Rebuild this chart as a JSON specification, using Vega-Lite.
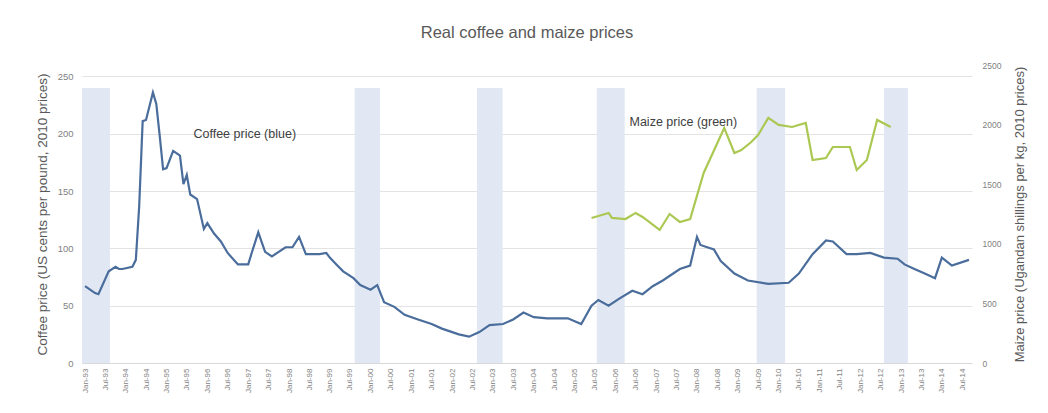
{
  "$schema": "https://vega.github.io/schema/vega-lite/v6.json",
  "autosize": {"type": "none"},
  "width": 890,
  "height": 298,
  "padding": {"left": 82, "top": 65, "right": 76, "bottom": 50},
  "background": "#ffffff",
  "config": {
    "font": "Liberation Sans",
    "view": {"stroke": null},
    "axis": {"labelColor": "#7f7f7f", "titleColor": "#595959", "titleFontWeight": "normal", "ticks": false, "domain": false},
    "axisX": {"labelOverlap": false, "labelBound": false, "labelFlush": false}
  },
  "title": {"text": "Real coffee and maize prices", "fontSize": 16.5, "fontWeight": "normal", "color": "#595959", "anchor": "middle", "offset": 20},
  "datasets": {
    "bands": [
      {"start": "1992-12-05", "end": "1993-08-12", "bottom": 0, "top": 240},
      {"start": "1999-08-12", "end": "2000-03-25", "bottom": 0, "top": 240},
      {"start": "2002-08-10", "end": "2003-03-28", "bottom": 0, "top": 240},
      {"start": "2005-07-18", "end": "2006-03-25", "bottom": 0, "top": 240},
      {"start": "2009-06-18", "end": "2010-02-28", "bottom": 0, "top": 240},
      {"start": "2012-08-01", "end": "2013-03-03", "bottom": 0, "top": 240}
    ],
    "coffee": [
      {"date": "1993-01-01", "price": 67},
      {"date": "1993-04-01", "price": 61},
      {"date": "1993-05-01", "price": 60},
      {"date": "1993-08-01", "price": 80},
      {"date": "1993-10-01", "price": 84},
      {"date": "1993-11-01", "price": 82},
      {"date": "1993-12-01", "price": 82},
      {"date": "1994-03-01", "price": 84},
      {"date": "1994-04-01", "price": 90},
      {"date": "1994-05-01", "price": 137},
      {"date": "1994-06-01", "price": 211},
      {"date": "1994-07-01", "price": 212},
      {"date": "1994-09-01", "price": 236},
      {"date": "1994-10-01", "price": 226},
      {"date": "1994-11-01", "price": 198},
      {"date": "1994-12-01", "price": 169},
      {"date": "1995-01-01", "price": 170},
      {"date": "1995-03-01", "price": 185},
      {"date": "1995-05-01", "price": 181},
      {"date": "1995-06-01", "price": 156},
      {"date": "1995-07-01", "price": 164},
      {"date": "1995-08-01", "price": 147},
      {"date": "1995-10-01", "price": 143},
      {"date": "1995-12-01", "price": 117},
      {"date": "1996-01-01", "price": 122},
      {"date": "1996-03-01", "price": 113},
      {"date": "1996-05-01", "price": 106},
      {"date": "1996-07-01", "price": 96},
      {"date": "1996-10-01", "price": 86},
      {"date": "1997-01-01", "price": 86},
      {"date": "1997-02-01", "price": 96},
      {"date": "1997-04-01", "price": 114},
      {"date": "1997-06-01", "price": 97},
      {"date": "1997-08-01", "price": 93},
      {"date": "1997-12-01", "price": 101},
      {"date": "1998-02-01", "price": 101},
      {"date": "1998-04-01", "price": 110},
      {"date": "1998-06-01", "price": 95},
      {"date": "1998-10-01", "price": 95},
      {"date": "1998-12-01", "price": 96},
      {"date": "1999-01-01", "price": 92},
      {"date": "1999-03-01", "price": 86},
      {"date": "1999-05-01", "price": 80},
      {"date": "1999-08-01", "price": 74},
      {"date": "1999-10-01", "price": 68},
      {"date": "2000-01-01", "price": 64},
      {"date": "2000-03-01", "price": 68},
      {"date": "2000-05-01", "price": 53},
      {"date": "2000-08-01", "price": 49},
      {"date": "2000-11-01", "price": 42},
      {"date": "2001-03-01", "price": 38},
      {"date": "2001-07-01", "price": 34},
      {"date": "2001-10-01", "price": 30},
      {"date": "2002-03-01", "price": 25},
      {"date": "2002-06-01", "price": 23},
      {"date": "2002-09-01", "price": 27},
      {"date": "2002-12-01", "price": 33},
      {"date": "2003-04-01", "price": 34},
      {"date": "2003-07-01", "price": 38},
      {"date": "2003-10-01", "price": 44},
      {"date": "2004-01-01", "price": 40},
      {"date": "2004-05-01", "price": 39},
      {"date": "2004-11-01", "price": 39},
      {"date": "2005-03-01", "price": 34},
      {"date": "2005-06-01", "price": 50},
      {"date": "2005-08-01", "price": 55},
      {"date": "2005-11-01", "price": 50},
      {"date": "2006-02-01", "price": 56},
      {"date": "2006-06-01", "price": 63},
      {"date": "2006-09-01", "price": 60},
      {"date": "2006-12-01", "price": 67},
      {"date": "2007-03-01", "price": 72},
      {"date": "2007-08-01", "price": 82},
      {"date": "2007-11-01", "price": 85},
      {"date": "2008-01-01", "price": 110},
      {"date": "2008-02-01", "price": 103},
      {"date": "2008-04-01", "price": 101},
      {"date": "2008-06-01", "price": 99},
      {"date": "2008-08-01", "price": 89},
      {"date": "2008-12-01", "price": 78},
      {"date": "2009-04-01", "price": 72},
      {"date": "2009-10-01", "price": 69},
      {"date": "2010-04-01", "price": 70},
      {"date": "2010-07-01", "price": 78},
      {"date": "2010-11-01", "price": 95},
      {"date": "2011-03-01", "price": 107},
      {"date": "2011-05-01", "price": 106},
      {"date": "2011-09-01", "price": 95},
      {"date": "2011-12-01", "price": 95},
      {"date": "2012-04-01", "price": 96},
      {"date": "2012-08-01", "price": 92},
      {"date": "2012-12-01", "price": 91},
      {"date": "2013-02-01", "price": 86},
      {"date": "2013-05-01", "price": 82},
      {"date": "2013-08-01", "price": 78},
      {"date": "2013-11-01", "price": 74},
      {"date": "2014-01-01", "price": 92},
      {"date": "2014-04-01", "price": 85},
      {"date": "2014-09-01", "price": 90}
    ],
    "maize": [
      {"date": "2005-06-01", "price": 1217},
      {"date": "2005-11-01", "price": 1259},
      {"date": "2005-12-01", "price": 1217},
      {"date": "2006-04-01", "price": 1208},
      {"date": "2006-07-01", "price": 1259},
      {"date": "2006-09-01", "price": 1225},
      {"date": "2007-02-01", "price": 1116},
      {"date": "2007-05-01", "price": 1250},
      {"date": "2007-08-01", "price": 1183},
      {"date": "2007-11-01", "price": 1208},
      {"date": "2008-03-01", "price": 1594},
      {"date": "2008-09-01", "price": 1972},
      {"date": "2008-12-01", "price": 1762},
      {"date": "2009-02-01", "price": 1787},
      {"date": "2009-05-01", "price": 1854},
      {"date": "2009-07-01", "price": 1913},
      {"date": "2009-10-01", "price": 2056},
      {"date": "2010-01-01", "price": 1997},
      {"date": "2010-05-01", "price": 1980},
      {"date": "2010-09-01", "price": 2014},
      {"date": "2010-11-01", "price": 1703},
      {"date": "2011-03-01", "price": 1720},
      {"date": "2011-05-01", "price": 1812},
      {"date": "2011-10-01", "price": 1812},
      {"date": "2011-12-01", "price": 1619},
      {"date": "2012-03-01", "price": 1703},
      {"date": "2012-06-01", "price": 2039},
      {"date": "2012-10-01", "price": 1980}
    ],
    "notes": [
      {"date": "1996-12-01", "y": 200, "label": "Coffee price (blue)"},
      {"date": "2007-09-01", "y": 210, "label": "Maize price (green)"}
    ]
  },
  "layer": [
    {
      "layer": [
        {
          "data": {"name": "bands"},
          "mark": {"type": "rect", "color": "#e1e8f3"},
          "encoding": {
            "x": {"field": "start", "type": "temporal", "title": null},
            "x2": {"field": "end"},
            "y": {"field": "bottom", "type": "quantitative", "title": "Coffee price (US cents per pound, 2010 prices)"},
            "y2": {"field": "top"}
          }
        },
        {
          "data": {"name": "coffee"},
          "mark": {"type": "line", "color": "#4a6d9c", "strokeWidth": 2.2},
          "encoding": {
            "x": {
              "field": "date", "type": "temporal", "title": null,
              "scale": {"domain": ["1992-12-05", "2014-09-28"]},
              "axis": {
                "title": null, "format": "%b-%y", "labelAngle": -90, "labelFontSize": 8, "labelOverlap": false,
                "tickCount": {"interval": "month", "step": 6},
                "grid": false, "domain": true, "domainColor": "#d9d9d9", "labelPadding": 5
              }
            },
            "y": {
              "field": "price", "type": "quantitative",
              "scale": {"domain": [0, 250]},
              "axis": {
                "title": "Coffee price (US cents per pound, 2010 prices)", "titleFontSize": 13.5,
                "values": [0, 50, 100, 150, 200, 250], "labelFontSize": 9.5, "labelPadding": 9,
                "titlePadding": 8, "grid": true, "gridColor": "#e3e3e3"
              }
            }
          }
        },
        {
          "data": {"name": "notes"},
          "mark": {"type": "text", "fontSize": 12.5, "color": "#404040", "align": "center", "baseline": "middle"},
          "encoding": {
            "x": {"field": "date", "type": "temporal", "title": null},
            "y": {"field": "y", "type": "quantitative", "title": "Coffee price (US cents per pound, 2010 prices)"},
            "text": {"field": "label"}
          }
        }
      ]
    },
    {
      "data": {"name": "maize"},
      "mark": {"type": "line", "color": "#abc853", "strokeWidth": 2.2},
      "encoding": {
        "x": {"field": "date", "type": "temporal", "title": null},
        "y": {
          "field": "price", "type": "quantitative",
          "scale": {"domain": [0, 2500]},
          "axis": {
            "orient": "right", "title": "Maize price (Ugandan shillings per kg, 2010 prices)", "titleAngle": 270,
            "titleFontSize": 13, "values": [0, 500, 1000, 1500, 2000, 2500], "format": "d", "labelFontSize": 8.5,
            "labelPadding": 10, "titlePadding": 26, "grid": false
          }
        }
      }
    }
  ],
  "resolve": {"scale": {"y": "independent"}}
}
